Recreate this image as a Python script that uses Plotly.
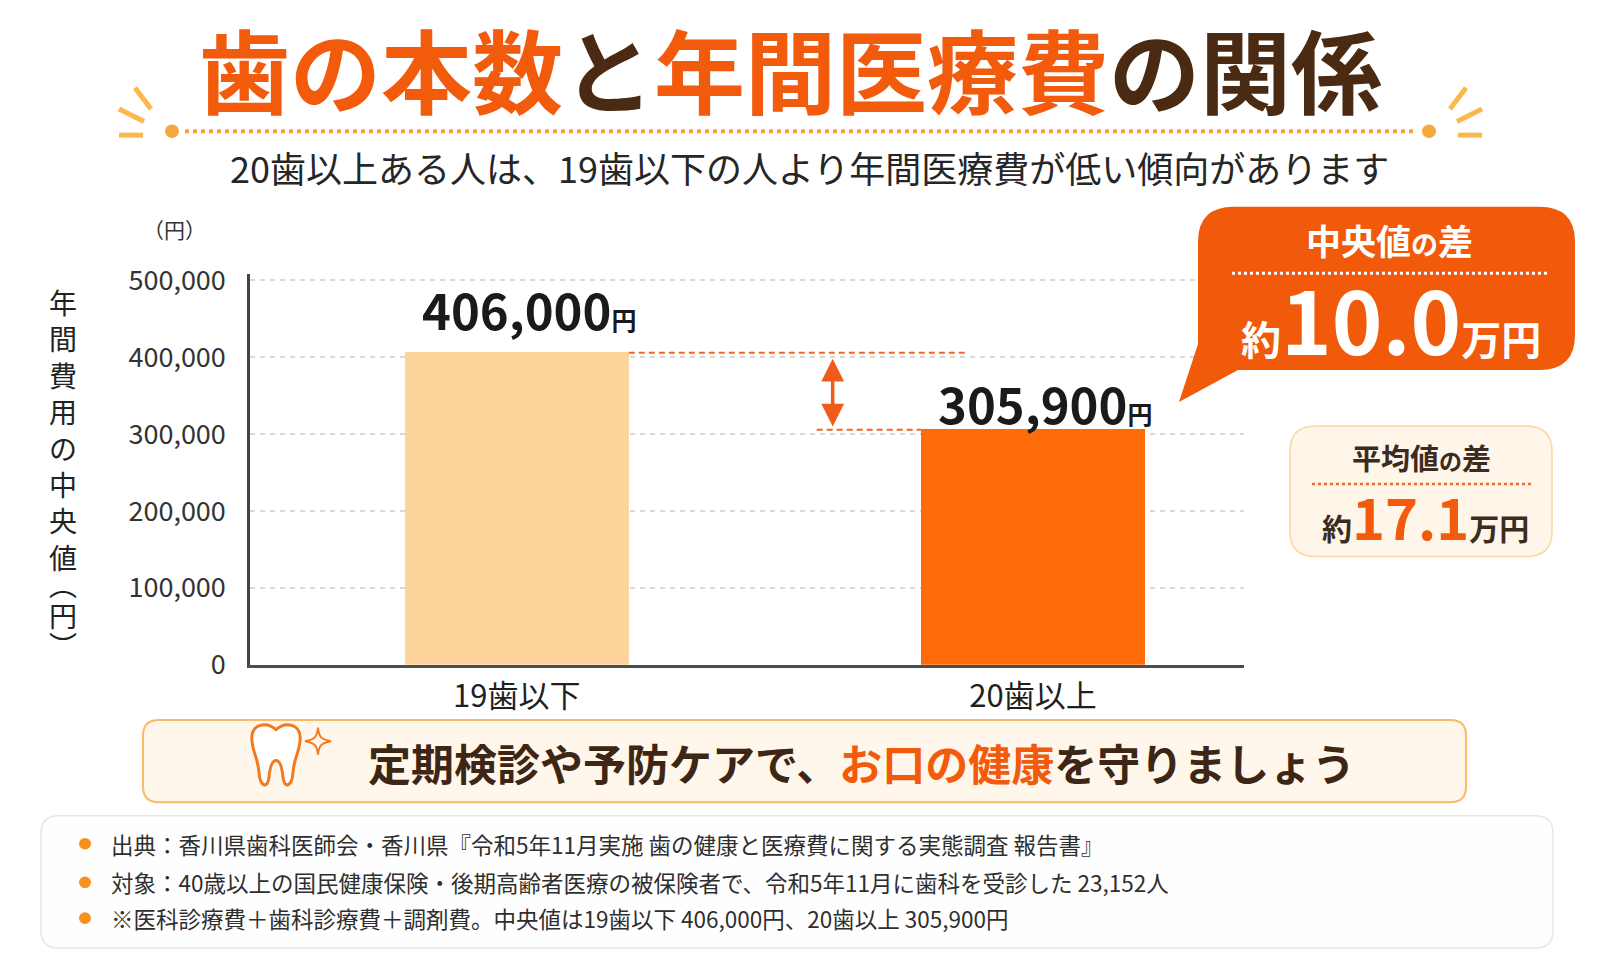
"""歯の本数と年間医療費の関係 - bar chart with callouts."""

import plotly.graph_objects as go

W, H = 1600, 960
FONT = "Noto Sans CJK JP"

ORANGE = "#f25a0c"
BROWN = "#4a2a12"
DARK = "#2b2b2b"

categories = ["19歯以下", "20歯以上"]
median_cost = [406000, 305900]
bar_colors = ["#fdd59c", "#ff6b08"]
y_ticks = [0, 100000, 200000, 300000, 400000, 500000]
mean_diff_man = 17.1
y_title_main = "年間費用の中央値"
y_title_unit = "︵円︶"

footnotes = [
    "出典：香川県歯科医師会・香川県『令和5年11月実施 歯の健康と医療費に関する実態調査 報告書』",
    "対象：40歳以上の国民健康保険・後期高齢者医療の被保険者で、令和5年11月に歯科を受診した 23,152人",
    "※医科診療費＋歯科診療費＋調剤費。中央値は19歯以下 406,000円、20歯以上 305,900円",
]

median_diff_man = (median_cost[0] - median_cost[1]) / 10000


def px(x):
    return x / W


def py(y):
    return 1 - y / H


def rounded_rect(x0, y0, x1, y1, r):
    return (
        f"M{px(x0 + r)},{py(y0)} L{px(x1 - r)},{py(y0)} "
        f"Q{px(x1)},{py(y0)} {px(x1)},{py(y0 + r)} L{px(x1)},{py(y1 - r)} "
        f"Q{px(x1)},{py(y1)} {px(x1 - r)},{py(y1)} L{px(x0 + r)},{py(y1)} "
        f"Q{px(x0)},{py(y1)} {px(x0)},{py(y1 - r)} L{px(x0)},{py(y0 + r)} "
        f"Q{px(x0)},{py(y0)} {px(x0 + r)},{py(y0)} Z"
    )


def bubble(x0, y0, x1, y1, r, tail_bottom_x, tip, tail_left_y):
    return (
        f"M{px(x0 + r)},{py(y0)} L{px(x1 - r)},{py(y0)} "
        f"Q{px(x1)},{py(y0)} {px(x1)},{py(y0 + r)} L{px(x1)},{py(y1 - r)} "
        f"Q{px(x1)},{py(y1)} {px(x1 - r)},{py(y1)} L{px(tail_bottom_x)},{py(y1)} "
        f"L{px(tip[0])},{py(tip[1])} L{px(x0)},{py(tail_left_y)} "
        f"L{px(x0)},{py(y0 + r)} Q{px(x0)},{py(y0)} {px(x0 + r)},{py(y0)} Z"
    )


def curve_path(start, curves, dx=0.0):
    s = f"M{px(start[0] + dx)},{py(start[1])}"
    for c1, c2, end in curves:
        s += (f" C{px(c1[0] + dx)},{py(c1[1])} {px(c2[0] + dx)},{py(c2[1])} "
              f"{px(end[0] + dx)},{py(end[1])}")
    return s + " Z"


def hline(x0, x1, y, color, width, dash):
    return dict(type="line", xref="paper", yref="paper", x0=px(x0), x1=px(x1),
                y0=py(y), y1=py(y), line=dict(color=color, width=width, dash=dash))


def seg(x0, y0, x1, y1, color, width):
    return dict(type="line", xref="paper", yref="paper", x0=px(x0), x1=px(x1),
                y0=py(y0), y1=py(y1), line=dict(color=color, width=width))


def dot(cx, cy, r, color):
    return dict(type="circle", xref="paper", yref="paper", x0=px(cx - r), x1=px(cx + r),
                y0=py(cy + r), y1=py(cy - r), fillcolor=color, line=dict(width=0))


def text(x, y, s, size, color=DARK, weight="normal", xanchor="center"):
    return dict(xref="paper", yref="paper", x=px(x), y=py(y), text=s, showarrow=False,
                xanchor=xanchor, yanchor="middle",
                font=dict(family=FONT, size=size, color=color, weight=weight))


BAR_W = 0.434

fig = go.Figure(
    go.Bar(
        x=categories,
        y=median_cost,
        width=BAR_W,
        marker=dict(color=bar_colors, line=dict(width=0)),
        hoverinfo="skip",
    )
)

shapes = []
annotations = []

# title decoration
shapes.append(hline(177, 1408, 112, "#f6a23c", 4, "dot"))
shapes.append(dot(164, 112, 7, "#f6a93f"))
shapes.append(dot(1421, 112, 7, "#f6a93f"))
for (a, b, c, d) in [(127, 67, 143, 89), (111, 89, 136, 102), (111, 116, 135, 116)]:
    shapes.append(seg(a, b, c, d, "#fbb84c", 5))
    shapes.append(seg(1585 - a, b, 1585 - c, d, "#fbb84c", 5))

annotations.append(text(
    782, 45,
    f"<span style='color:{ORANGE}'>歯の本数</span><span style='color:{BROWN}'>と</span>"
    f"<span style='color:{ORANGE}'>年間医療費</span><span style='color:{BROWN}'>の関係</span>",
    91, weight="bold"))
annotations.append(text(801, 149, "20歯以上ある人は、19歯以下の人より年間医療費が低い傾向があります",
                        36, color="#262626"))

# axis unit + vertical axis title
annotations.append(text(166, 213, "（円）", 21, color="#333333"))
annotations.append(text(55, 420, "<br>".join(y_title_main), 28, color="#222222"))
annotations.append(dict(
    xref="paper", yref="paper", x=px(55), y=py(612), showarrow=False,
    xanchor="center", yanchor="middle",
    text="<br>".join(f"<span style='font-size:28px'>{ch}</span>" for ch in y_title_unit),
    font=dict(family=FONT, size=23.5, color="#222222"),
))

# bar value labels
label_shift = [44, 27]
for cat, val, ys in zip(categories, median_cost, label_shift):
    annotations.append(dict(
        x=cat, y=val, xref="x", yref="y", showarrow=False, yanchor="middle",
        xshift=12, yshift=ys,
        text=f"{val:,}<span style='font-size:25px'>円</span>",
        font=dict(family=FONT, size=49, color="#1a1a1a", weight="bold"),
    ))

# difference guide lines and arrow
shapes.append(dict(type="line", xref="x", yref="y", x0=BAR_W / 2, x1=0.868,
                   y0=median_cost[0], y1=median_cost[0],
                   line=dict(color="#f26522", width=2, dash="6px,4px")))
shapes.append(dict(type="line", xref="x", yref="y", x0=0.581, x1=1 - BAR_W / 2,
                   y0=median_cost[1], y1=median_cost[1],
                   line=dict(color="#f26522", width=2, dash="6px,4px")))
annotations.append(dict(
    x=0.612, y=median_cost[1] + 4000, ax=0.612, ay=median_cost[0] - 6000,
    xref="x", yref="y", axref="x", ayref="y", text="", showarrow=True,
    arrowhead=2, arrowside="end+start", arrowsize=1.3, arrowwidth=3.5,
    arrowcolor="#f05a1a",
))

# median difference bubble
shapes.append(dict(type="path", xref="paper", yref="paper",
                   path=bubble(1190, 190, 1567, 359, 36, 1230, (1171, 392), 332),
                   fillcolor="#f15a0a", line=dict(width=0)))
shapes.append(hline(1224, 1540, 259, "#ffffff", 3, "dot"))
annotations.append(text(1381, 224,
                        "中央値<span style='font-size:27px'>の</span>差", 35,
                        color="#ffffff", weight="bold"))
annotations.append(text(1383, 305,
                        f"約<span style='font-size:86px'>{median_diff_man:.1f}</span>万円", 40,
                        color="#ffffff", weight="bold"))

# mean difference box
shapes.append(dict(type="path", xref="paper", yref="paper",
                   path=rounded_rect(1282, 417, 1544, 552, 26),
                   fillcolor="#fff5e9", line=dict(color="#fcd6a2", width=1.5)))
shapes.append(hline(1304, 1524, 477, "#f2682a", 2.5, "dot"))
annotations.append(text(1413, 449,
                        "平均値<span style='font-size:23px'>の</span>差", 29,
                        color="#3b2b20", weight="bold"))
annotations.append(text(1417, 509,
                        f"約<span style='font-size:56px;color:{ORANGE}'>{mean_diff_man:.1f}</span>万円",
                        30, color="#3b2b20", weight="bold"))

# message box
shapes.append(dict(type="path", xref="paper", yref="paper",
                   path=rounded_rect(135, 721, 1458, 806, 16),
                   fillcolor="#fff6ec", line=dict(color="#fbbb66", width=2)))
shapes.append(dict(type="path", xref="paper", yref="paper",
                   path=curve_path((276, 731), [
                       ((286, 722), (302, 725), (300, 743)),
                       ((299, 755), (294, 761), (293, 775)),
                       ((292, 791), (284, 792), (283, 780)),
                       ((282, 770), (280, 763), (276, 763)),
                       ((272, 763), (270, 770), (269, 780)),
                       ((268, 792), (260, 791), (259, 775)),
                       ((258, 761), (253, 755), (252, 743)),
                       ((250, 725), (266, 722), (276, 731)),
                   ], dx=-8),
                   fillcolor="#ffffff", line=dict(color="#f47a20", width=3)))
shapes.append(dict(type="path", xref="paper", yref="paper",
                   path=curve_path((318, 729), [
                       ((319, 739), (321, 741), (331, 743)),
                       ((321, 745), (319, 747), (318, 757)),
                       ((317, 747), (315, 745), (305, 743)),
                       ((315, 741), (317, 739), (318, 729)),
                   ], dx=-8),
                   fillcolor="rgba(0,0,0,0)", line=dict(color="#f47a20", width=2)))
annotations.append(text(
    854, 764,
    f"<span style='color:#3d2614'>定期検診や予防ケアで、</span>"
    f"<span style='color:{ORANGE}'>お口の健康</span>"
    f"<span style='color:#3d2614'>を守りましょう</span>",
    43, weight="bold"))

# footnote box
shapes.append(dict(type="path", xref="paper", yref="paper",
                   path=rounded_rect(33, 820, 1545, 957, 18),
                   fillcolor="#fefefe", line=dict(color="#e6e6e6", width=1.5)))
for note, yy in zip(footnotes, [849, 889, 926]):
    shapes.append(dot(77, yy, 6, "#f5921e"))
    annotations.append(text(101, yy, note, 22.5, color="#2e2e2e", xanchor="left"))

fig.update_layout(
    width=W,
    height=H,
    margin=dict(l=0, r=0, t=0, b=0),
    paper_bgcolor="#ffffff",
    plot_bgcolor="rgba(0,0,0,0)",
    showlegend=False,
    bargap=0,
    shapes=shapes,
    annotations=annotations,
    font=dict(family=FONT, color=DARK),
)
fig.update_xaxes(
    domain=[px(242), px(1236)],
    type="category",
    range=[-0.517, 1.409],
    showline=True,
    linecolor="#4d4d4d",
    linewidth=3,
    showgrid=False,
    ticks="",
    tickfont=dict(family=FONT, size=31, color="#1f1f1f"),
    ticklabelstandoff=2,
    fixedrange=True,
)
fig.update_yaxes(
    domain=[py(664), py(260)],
    range=[0, 508000],
    tickvals=y_ticks,
    tickformat=",",
    showline=True,
    linecolor="#444444",
    linewidth=2.5,
    showgrid=True,
    gridcolor="#d9d9d9",
    gridwidth=1.5,
    griddash="5px,5px",
    zeroline=False,
    ticks="",
    tickfont=dict(family=FONT, size=27, color="#333333"),
    ticklabelstandoff=16,
    fixedrange=True,
)

fig.write_html("out.html")
